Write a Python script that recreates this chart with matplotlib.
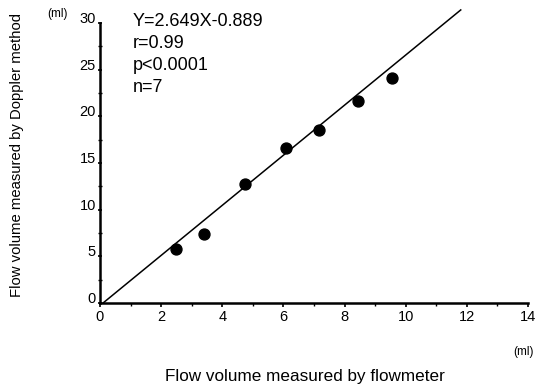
import matplotlib
matplotlib.use("Agg")
import matplotlib.pyplot as plt
from matplotlib.ticker import MultipleLocator

plt.rcParams['font.family'] = ['Liberation Sans', 'DejaVu Sans']

# data
flowmeter = [2.5, 3.4, 4.75, 6.1, 7.15, 8.45, 9.55]
doppler = [5.8, 7.4, 12.8, 16.6, 18.5, 21.6, 24.1]
line_x = [0.1, 11.8]
line_y = [0.0, 31.4]
x_ticks = [0, 2, 4, 6, 8, 10, 12, 14]
y_ticks = [0, 5, 10, 15, 20, 25, 30]
stats = ["Y=2.649X-0.889", "r=0.99", "p<0.0001", "n=7"]

fig = plt.figure(figsize=(5.36, 3.87), dpi=100)
ax = fig.add_axes([100/536, 84/387, 428/536, 293/387])
ax.set_xlim(0, 14)
ax.set_ylim(0, 30 * 293 / 280)

ax.plot(line_x, line_y, color='black', lw=1.1, clip_on=False)
ax.scatter(flowmeter, doppler, s=62, color='black', zorder=3)

for s in ['top', 'right']:
    ax.spines[s].set_visible(False)
ax.spines['left'].set_bounds(0, 30)
ax.spines['left'].set_linewidth(1.8)
ax.spines['bottom'].set_linewidth(1.8)

ax.set_xticks(x_ticks)
ax.set_xticklabels([str(v) for v in x_ticks], fontsize=10.5)
ax.xaxis.set_minor_locator(MultipleLocator(1))
ax.tick_params(axis='x', which='major', direction='out', length=3, width=1.2, pad=2)
ax.tick_params(axis='x', which='minor', direction='out', length=2, width=1.0)

ax.set_yticks(y_ticks)
ax.set_yticklabels([str(v) for v in y_ticks], fontsize=10.5, va='baseline')
ax.yaxis.set_minor_locator(MultipleLocator(2.5))
ax.tick_params(axis='y', which='major', direction='inout', length=3, width=1.2, pad=1.5)
ax.tick_params(axis='y', which='minor', direction='inout', length=2.5, width=1.0)

for i, t in enumerate(stats):
    fig.text(133/536, 1 - (21 + 22 * i) / 387, t, fontsize=13, va='center', ha='left')

fig.text(57/536, 1 - 14/387, "(ml)", fontsize=8.5, ha='center', va='center')
fig.text(524/536, 1 - 352/387, "(ml)", fontsize=8.5, ha='center', va='center')
fig.text(17/536, 1 - 155/387, "Flow volume measured by Doppler method", fontsize=10.7,
         rotation=90, ha='center', va='center')
fig.text(305/536, 1 - 377/387, "Flow volume measured by flowmeter", fontsize=12.3,
         ha='center', va='center')

fig.savefig("out.png", dpi=100)
